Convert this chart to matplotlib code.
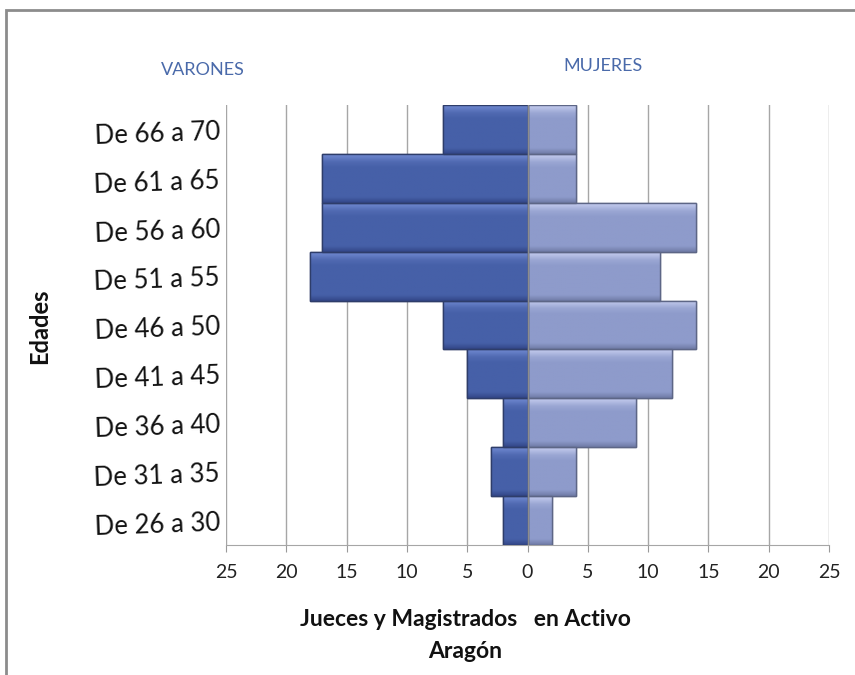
import matplotlib
matplotlib.use("Agg")
import matplotlib.pyplot as plt
import numpy as np
from matplotlib.colors import LinearSegmentedColormap
from matplotlib.patches import Rectangle

categories = ["De 26 a 30", "De 31 a 35", "De 36 a 40", "De 41 a 45", "De 46 a 50",
              "De 51 a 55", "De 56 a 60", "De 61 a 65", "De 66 a 70"]
varones = [2, 3, 2, 5, 7, 18, 17, 17, 7]
mujeres = [2, 4, 9, 12, 14, 11, 14, 4, 4]
xticks = [-25, -20, -15, -10, -5, 0, 5, 10, 15, 20, 25]
xticklabels = ["25", "20", "15", "10", "5", "0", "5", "10", "15", "20", "25"]

plt.rcParams['font.family'] = ['Lato', 'DejaVu Sans']

fig = plt.figure(figsize=(8.55, 6.75), dpi=100)
W, H = 855, 675
ax = fig.add_axes([226 / W, (675 - 545) / H, (829 - 226) / W, (545 - 105) / H])

y = np.arange(len(categories))
men_bars = ax.barh(y, [-v for v in varones], height=1.0, color="#4660a8",
                   edgecolor="#2e3d6a", linewidth=1.0, zorder=3)
wom_bars = ax.barh(y, mujeres, height=1.0, color="#8e9bcb",
                   edgecolor="#5d6686", linewidth=1.0, zorder=3)

# bevel-like vertical gradient inside each bar
def shade(bars, light, base, dark):
    cmap = LinearSegmentedColormap.from_list("b", [dark, base, base, light])
    grad = np.linspace(0, 1, 40).reshape(-1, 1)
    vals = np.interp(grad, [0, 0.12, 0.5, 0.85, 1.0], [0.0, 0.35, 0.5, 0.75, 1.0])
    for b in bars:
        x0, y0 = b.get_x(), b.get_y()
        w, h = b.get_width(), b.get_height()
        im = ax.imshow(vals, cmap=cmap, aspect="auto", origin="lower",
                       extent=[x0, x0 + w, y0, y0 + h], zorder=3.5, vmin=0, vmax=1,
                       interpolation="bilinear")
        im.set_clip_path(b)
        ax.add_patch(Rectangle((x0, y0), w, h, fill=False, edgecolor=b.get_edgecolor(),
                               linewidth=1.0, zorder=4))

shade(men_bars, "#6f88d0", "#4660a8", "#34488a")
shade(wom_bars, "#c4ccee", "#8e9bcb", "#717da8")

ax.set_xlim(-25, 25)
ax.set_ylim(-0.5, len(categories) - 0.5)
ax.set_xticks(xticks)
ax.set_xticklabels(xticklabels, fontsize=14, color="#222222")
ax.set_yticks(y)
ax.set_yticklabels(categories, fontsize=18.5, color="#111111", rotation=2)
ax.tick_params(axis="y", length=0, pad=4)
ax.tick_params(axis="x", length=5, color="#999999", pad=9, direction="out")
ax.grid(axis="x", color="#a6a6a6", linewidth=1.0, zorder=0)
ax.set_axisbelow(True)
for s in ["top", "right", "left"]:
    ax.spines[s].set_visible(False)
ax.spines["bottom"].set_color("#a6a6a6")
ax.axvline(0, color="#8c8c8c", linewidth=1.0, zorder=5)

fig.text(40 / W, 1 - 326 / H, "Edades", rotation=90, fontsize=17, fontweight="bold",
         ha="center", va="center", color="#111111")
fig.text(203 / W, 1 - 70 / H, "VARONES", fontsize=13, color="#4a6aaa", ha="center", va="center")
fig.text(603 / W, 1 - 66 / H, "MUJERES", fontsize=13, color="#4a6aaa", ha="center", va="center")
fig.text(465 / W, 1 - 620 / H, "Jueces y Magistrados   en Activo", fontsize=16.5,
         fontweight="bold", ha="center", va="center", color="#111111")
fig.text(465 / W, 1 - 651 / H, "Aragón", fontsize=16.5, fontweight="bold",
         ha="center", va="center", color="#111111")

# outer chart border
fig.patches.append(Rectangle((6 / W, -0.05), 1.0, 1 - 10 / H + 0.05, transform=fig.transFigure,
                             fill=False, edgecolor="#8c8c8c", linewidth=2.0))

fig.savefig("out.png", dpi=100)
